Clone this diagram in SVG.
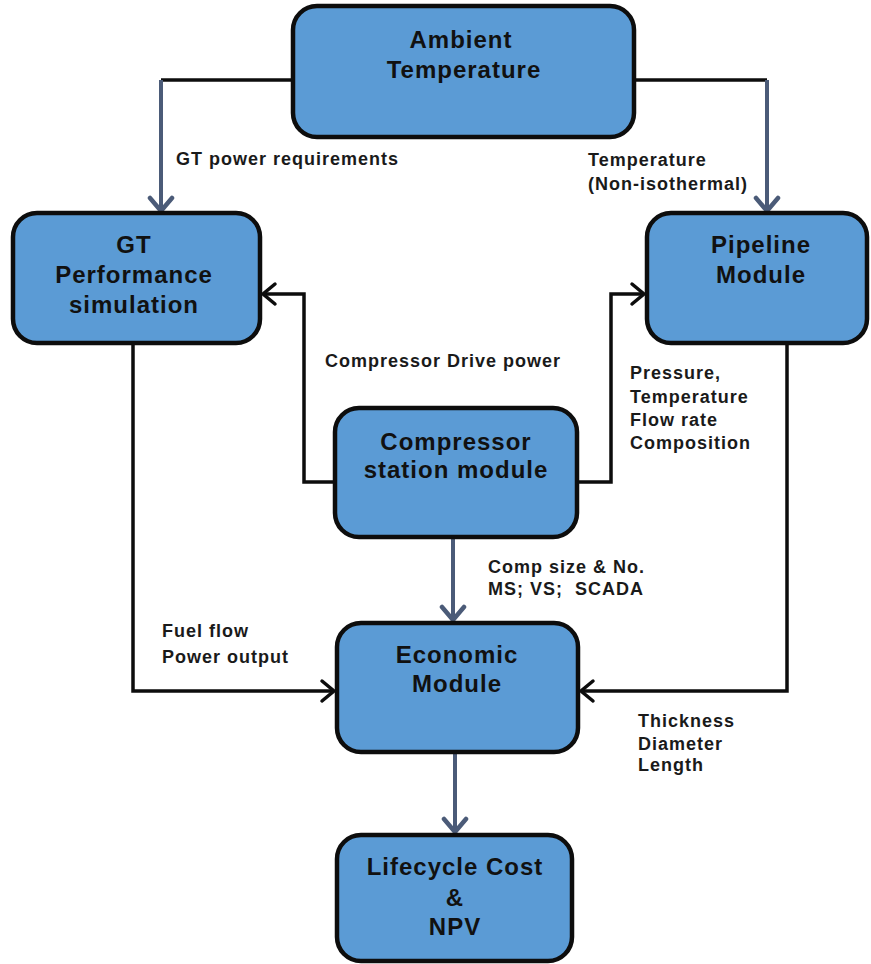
<svg xmlns="http://www.w3.org/2000/svg" width="871" height="964" viewBox="0 0 871 964">
  <defs>
    <style>
      .box { fill: #5b9bd5; stroke: #0d0d0d; stroke-width: 4.5; }
      .title { font-family: "Liberation Sans", Arial, sans-serif; font-weight: bold; font-size: 24px; letter-spacing: 1px; fill: #111; text-anchor: middle; }
      .label { font-family: "Liberation Sans", Arial, sans-serif; font-weight: bold; font-size: 18px; letter-spacing: 1px; fill: #1a1a1a; }
      .wire { fill: none; stroke: #0d0d0d; stroke-width: 3.5; stroke-linejoin: miter; }
      .flow { fill: none; stroke: #4b5b78; stroke-width: 4; }
    </style>
    <marker id="headBlack" markerUnits="userSpaceOnUse" viewBox="-16 -16 32 32" markerWidth="32" markerHeight="32" refX="0" refY="0" orient="auto">
      <path d="M -12 -10 L 0 0 L -12 10" fill="none" stroke="#0d0d0d" stroke-width="3.5" stroke-linecap="round" stroke-linejoin="miter"/>
    </marker>
    <marker id="headGray" markerUnits="userSpaceOnUse" viewBox="-16 -16 32 32" markerWidth="32" markerHeight="32" refX="0" refY="0" orient="auto">
      <path d="M -13 -11 L 0 0 L -13 11" fill="none" stroke="#4b5b78" stroke-width="4.5" stroke-linecap="round" stroke-linejoin="miter"/>
    </marker>
  </defs>

  <rect width="871" height="964" fill="#ffffff"/>

  <!-- connectors -->
  <g id="connectors">
    <!-- ambient temperature to GT and pipeline -->
    <path class="wire" d="M 293 80 L 161 80"/>
    <path class="flow" d="M 161 80 L 161 211" marker-end="url(#headGray)"/>
    <path class="wire" d="M 634 80 L 767 80"/>
    <path class="flow" d="M 767 80 L 767 211" marker-end="url(#headGray)"/>

    <!-- compressor station to GT and pipeline -->
    <path class="wire" d="M 335 482 L 304 482 L 304 294 L 263 294" marker-end="url(#headBlack)"/>
    <path class="wire" d="M 577 482 L 611 482 L 611 294 L 644 294" marker-end="url(#headBlack)"/>

    <!-- compressor station to economic module -->
    <path class="flow" d="M 453 539 L 453 620" marker-end="url(#headGray)"/>

    <!-- GT and pipeline to economic module -->
    <path class="wire" d="M 133 345 L 133 691 L 334 691" marker-end="url(#headBlack)"/>
    <path class="wire" d="M 787 345 L 787 691 L 581 691" marker-end="url(#headBlack)"/>

    <!-- economic module to lifecycle cost -->
    <path class="flow" d="M 455 754 L 455 832" marker-end="url(#headGray)"/>
  </g>

  <!-- nodes -->
  <g id="ambient">
    <rect class="box" x="293" y="6" width="341" height="131" rx="24"/>
    <text class="title" x="461" y="48">Ambient</text>
    <text class="title" x="464" y="78">Temperature</text>
  </g>

  <g id="gt-performance">
    <rect class="box" x="13" y="213" width="247" height="130" rx="24"/>
    <text class="title" x="134" y="253">GT</text>
    <text class="title" x="134" y="283">Performance</text>
    <text class="title" x="134" y="313">simulation</text>
  </g>

  <g id="pipeline">
    <rect class="box" x="647" y="213" width="220" height="130" rx="24"/>
    <text class="title" x="761" y="253">Pipeline</text>
    <text class="title" x="761" y="283">Module</text>
  </g>

  <g id="compressor">
    <rect class="box" x="335" y="408" width="242" height="129" rx="24"/>
    <text class="title" x="456" y="450">Compressor</text>
    <text class="title" x="456" y="478">station module</text>
  </g>

  <g id="economic">
    <rect class="box" x="337" y="623" width="241" height="129" rx="24"/>
    <text class="title" x="457" y="663">Economic</text>
    <text class="title" x="457" y="692">Module</text>
  </g>

  <g id="lifecycle">
    <rect class="box" x="337" y="835" width="235" height="126" rx="24"/>
    <text class="title" x="455" y="875">Lifecycle Cost</text>
    <text class="title" x="455" y="906">&amp;</text>
    <text class="title" x="455" y="935">NPV</text>
  </g>

  <!-- connector labels -->
  <g id="labels">
    <text class="label" x="176" y="165">GT power requirements</text>
    <text class="label" x="588" y="166">Temperature</text>
    <text class="label" x="588" y="190">(Non-isothermal)</text>
    <text class="label" x="325" y="367">Compressor Drive power</text>
    <text class="label" x="630" y="379">Pressure,</text>
    <text class="label" x="630" y="403">Temperature</text>
    <text class="label" x="630" y="426">Flow rate</text>
    <text class="label" x="630" y="449">Composition</text>
    <text class="label" x="488" y="573">Comp size &amp; No.</text>
    <text class="label" x="488" y="595">MS; VS;&#160; SCADA</text>
    <text class="label" x="162" y="637">Fuel flow</text>
    <text class="label" x="162" y="663">Power output</text>
    <text class="label" x="638" y="727">Thickness</text>
    <text class="label" x="638" y="750">Diameter</text>
    <text class="label" x="638" y="771">Length</text>
  </g>
</svg>
